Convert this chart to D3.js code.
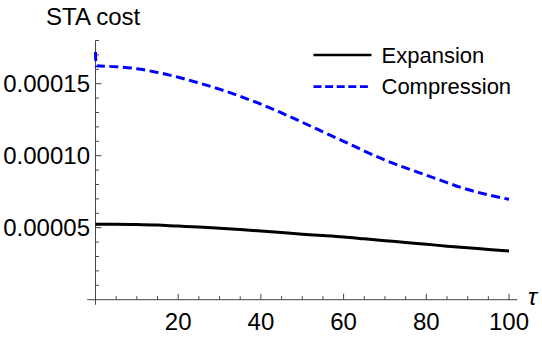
<!DOCTYPE html>
<html>
<head>
<meta charset="utf-8">
<script src="https://cdn.jsdelivr.net/npm/d3@7"></script>
<style>
  body { margin: 0; background: #fff; }
  text { font-family: "Liberation Sans", Arial, sans-serif; fill: #000; }
</style>
</head>
<body>
<div id="chart"></div>
<script>
// tau values and the two cost curves (units of 1e-4)
const tau = [0, 5, 10, 15, 20, 25, 30, 35, 40, 45, 50, 55, 60, 65, 70, 75, 80, 85, 90, 95, 100];
const expansion = [0.524, 0.524, 0.522, 0.518, 0.511, 0.505, 0.497, 0.488, 0.477, 0.466, 0.455, 0.446, 0.436, 0.423, 0.410, 0.397, 0.385, 0.372, 0.360, 0.349, 0.338];
const compression = [1.625, 1.618, 1.604, 1.578, 1.545, 1.505, 1.462, 1.412, 1.358, 1.297, 1.232, 1.166, 1.100, 1.033, 0.970, 0.915, 0.865, 0.813, 0.765, 0.728, 0.697];
// short spike at tau = 0 on the compression curve
const compressionStart = [[0, 1.72], [0.15, 1.625]];

const yTicks = [0.00005, 0.00010, 0.00015];
const xTicks = [20, 40, 60, 80, 100];
const seriesNames = ["Expansion", "Compression"];

const width = 542, height = 338;

const svg = d3.select("#chart").append("svg")
    .attr("width", width)
    .attr("height", height);

const x = d3.scaleLinear().domain([-2, 102]).range([87.2, 517.3]);
const y = d3.scaleLinear().domain([0, 0.00018]).range([299.7, 40.5]);

// axes
const axisColor = "#444";
svg.append("line")
    .attr("x1", x(-2)).attr("x2", x(102))
    .attr("y1", y(0)).attr("y2", y(0))
    .attr("stroke", axisColor).attr("stroke-width", 1);
svg.append("line")
    .attr("x1", x(0)).attr("x2", x(0))
    .attr("y1", y(-0.0000035)).attr("y2", y(0.00018))
    .attr("stroke", axisColor).attr("stroke-width", 1);

// x ticks
d3.range(5, 101, 5).forEach(function(t) {
    const major = t % 20 === 0;
    svg.append("line")
        .attr("x1", x(t)).attr("x2", x(t))
        .attr("y1", y(0)).attr("y2", y(0) - (major ? 6 : 3.5))
        .attr("stroke", axisColor).attr("stroke-width", 1);
});
svg.selectAll(".xlab").data(xTicks).enter().append("text")
    .attr("x", d => x(d))
    .attr("y", 329.5)
    .attr("text-anchor", "middle")
    .style("font-size", "24px")
    .text(d => d);

// y ticks
d3.range(1, 19).forEach(function(i) {
    const v = i * 0.00001;
    const major = i % 5 === 0;
    svg.append("line")
        .attr("x1", x(0)).attr("x2", x(0) + (major ? 6 : 3.5))
        .attr("y1", y(v)).attr("y2", y(v))
        .attr("stroke", axisColor).attr("stroke-width", 1);
});
svg.selectAll(".ylab").data(yTicks).enter().append("text")
    .attr("x", 90)
    .attr("y", d => y(d) + 8.6)
    .attr("text-anchor", "end")
    .style("font-size", "24px")
    .text(d => d.toFixed(5));

// axis labels
svg.append("text")
    .attr("x", 46).attr("y", 25)
    .style("font-size", "24px")
    .text("STA cost");
svg.append("text")
    .attr("x", 528).attr("y", 305)
    .style("font-size", "24px")
    .style("font-style", "italic")
    .text("τ");

// curves
const line = d3.line()
    .x(d => x(d[0]))
    .y(d => y(d[1] * 1e-4))
    .curve(d3.curveMonotoneX);

const expData = tau.map((t, i) => [t, expansion[i]]);
const compData = compressionStart.concat(tau.slice(1).map((t, i) => [t, compression[i + 1]]));

svg.append("path")
    .attr("d", line(expData))
    .attr("fill", "none")
    .attr("stroke", "#000")
    .attr("stroke-width", 3);

svg.append("path")
    .attr("d", line(compData))
    .attr("fill", "none")
    .attr("stroke", "#0000ff")
    .attr("stroke-width", 3)
    .attr("stroke-dasharray", "9,4.5");

// legend
const legend = svg.append("g");
const legendStyles = [
    { color: "#000", dash: null },
    { color: "#0000ff", dash: "8,3.6" }
];
seriesNames.forEach(function(name, i) {
    const ly = 55 + i * 31.7;
    legend.append("line")
        .attr("x1", 313.5).attr("x2", 371.5)
        .attr("y1", ly).attr("y2", ly)
        .attr("stroke", legendStyles[i].color)
        .attr("stroke-width", 2.7)
        .attr("stroke-dasharray", legendStyles[i].dash);
    legend.append("text")
        .attr("x", 381.5).attr("y", ly + 7.5)
        .style("font-size", "22px")
        .text(name);
});
</script>
</body>
</html>
